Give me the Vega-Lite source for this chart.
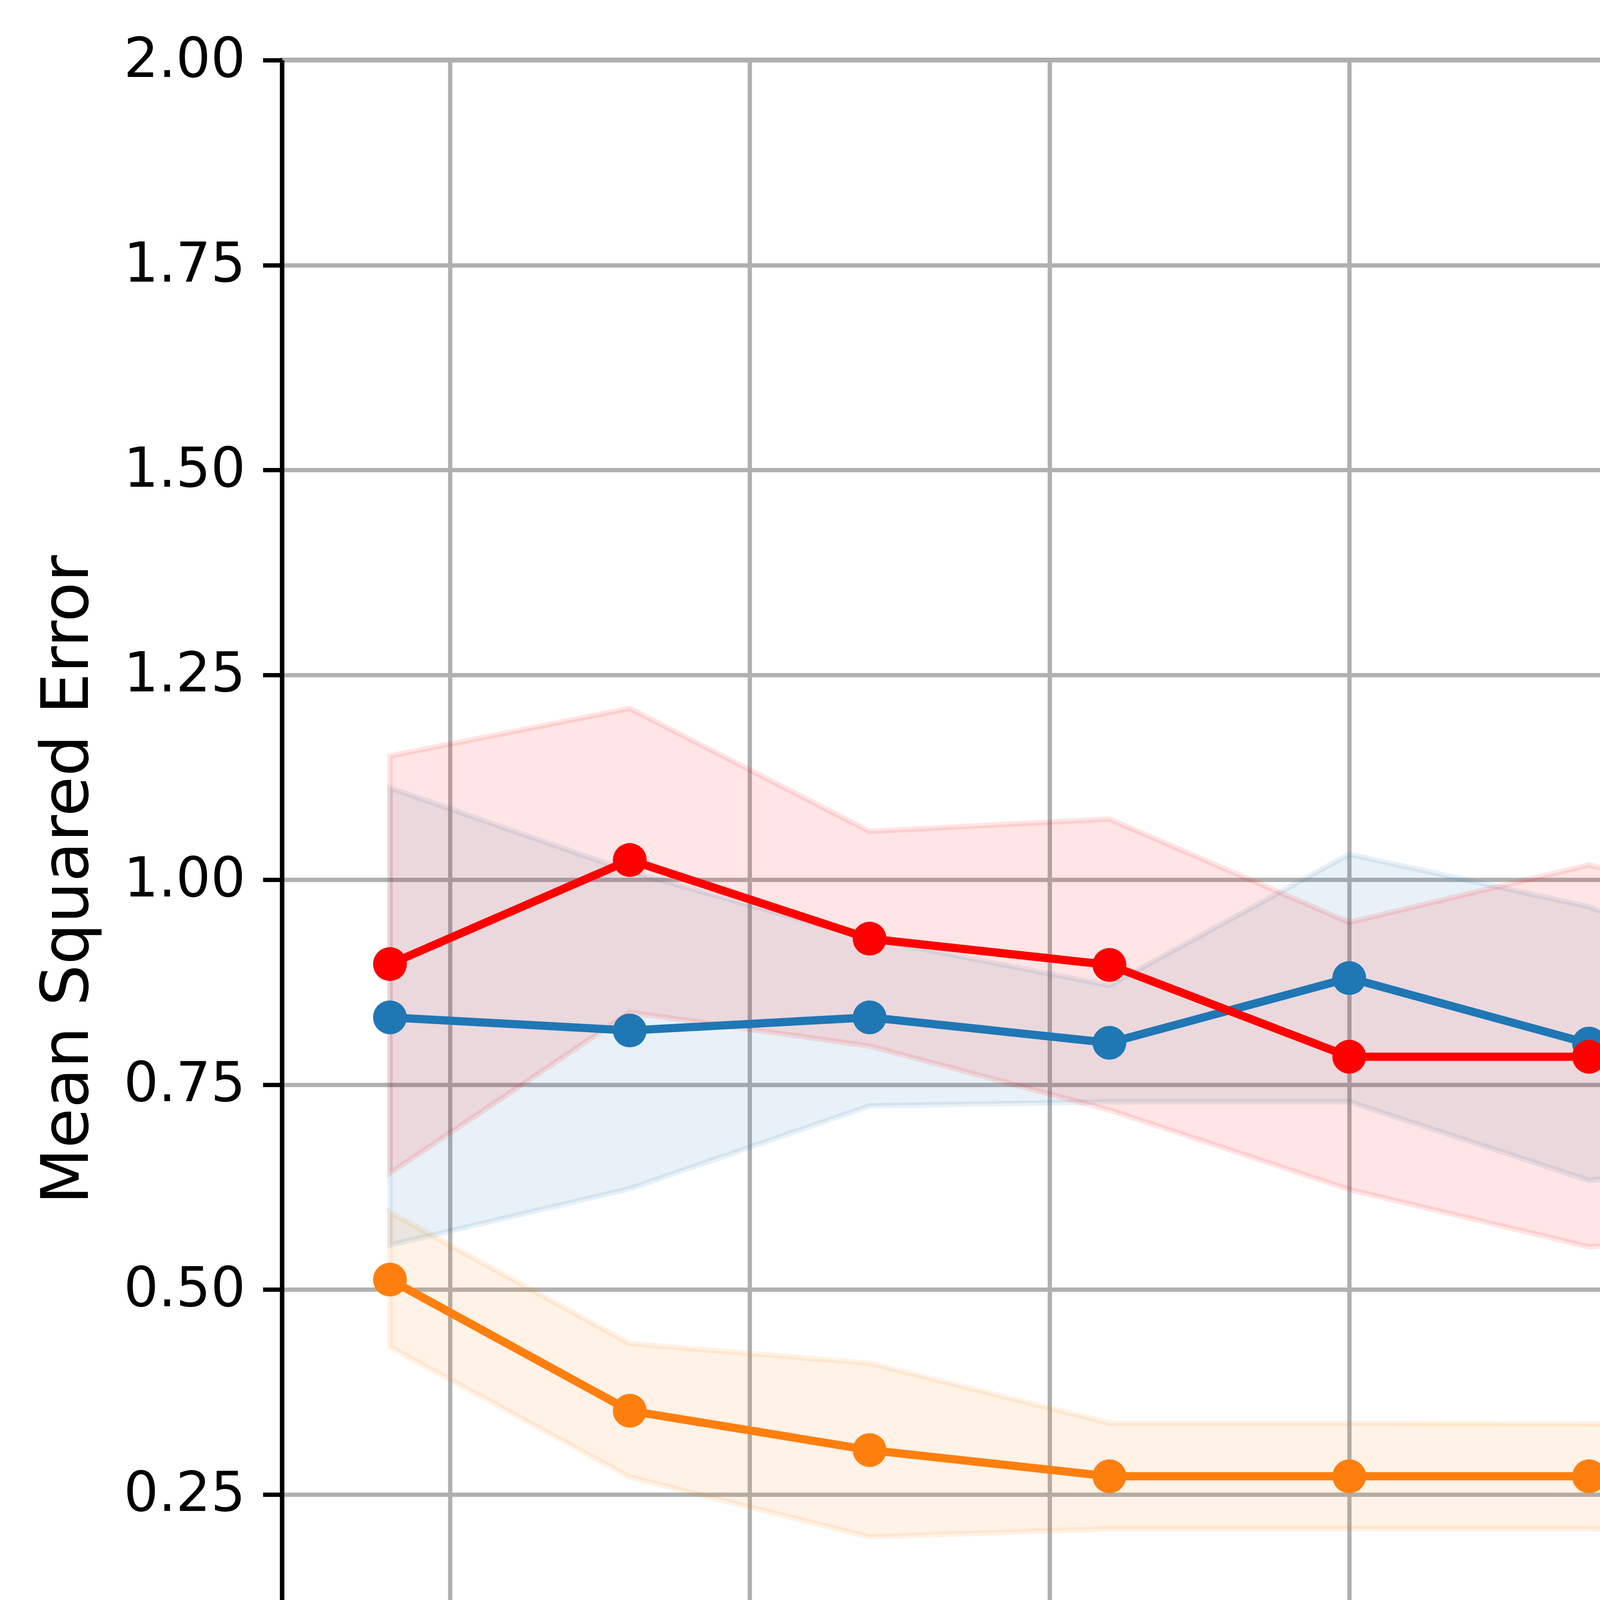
{
  "$schema": "https://vega.github.io/schema/vega-lite/v6.json",
  "width": 6078,
  "height": 4196,
  "autosize": {"type": "none"},
  "padding": {"left": 722, "top": 154, "right": 99, "bottom": 550},
  "background": "white",
  "data": {"values": [
    {"n": 400, "method": "π̂BC1", "mean": 0.832, "lo": 0.554, "hi": 1.112},
    {"n": 800, "method": "π̂BC1", "mean": 0.816, "lo": 0.623, "hi": 1.010},
    {"n": 1200, "method": "π̂BC1", "mean": 0.832, "lo": 0.724, "hi": 0.928},
    {"n": 1600, "method": "π̂BC1", "mean": 0.801, "lo": 0.729, "hi": 0.871},
    {"n": 2000, "method": "π̂BC1", "mean": 0.880, "lo": 0.729, "hi": 1.031},
    {"n": 2400, "method": "π̂BC1", "mean": 0.800, "lo": 0.633, "hi": 0.967},
    {"n": 2800, "method": "π̂BC1", "mean": 0.760, "lo": 0.671, "hi": 0.849},
    {"n": 3200, "method": "π̂BC1", "mean": 0.826, "lo": 0.728, "hi": 0.923},
    {"n": 3600, "method": "π̂BC1", "mean": 0.800, "lo": 0.800, "hi": 0.800},
    {"n": 4000, "method": "π̂BC1", "mean": 0.800, "lo": 0.800, "hi": 0.800},
    {"n": 400, "method": "π̂BC2", "mean": 0.512, "lo": 0.430, "hi": 0.594},
    {"n": 800, "method": "π̂BC2", "mean": 0.352, "lo": 0.271, "hi": 0.434},
    {"n": 1200, "method": "π̂BC2", "mean": 0.304, "lo": 0.198, "hi": 0.410},
    {"n": 1600, "method": "π̂BC2", "mean": 0.272, "lo": 0.208, "hi": 0.337},
    {"n": 2000, "method": "π̂BC2", "mean": 0.272, "lo": 0.208, "hi": 0.337},
    {"n": 2400, "method": "π̂BC2", "mean": 0.272, "lo": 0.208, "hi": 0.336},
    {"n": 2800, "method": "π̂BC2", "mean": 0.260, "lo": 0.194, "hi": 0.326},
    {"n": 3200, "method": "π̂BC2", "mean": 0.240, "lo": 0.175, "hi": 0.305},
    {"n": 3600, "method": "π̂BC2", "mean": 0.200, "lo": 0.161, "hi": 0.241},
    {"n": 4000, "method": "π̂BC2", "mean": 0.160, "lo": 0.160, "hi": 0.160},
    {"n": 400, "method": "π̂opt", "mean": 0.897, "lo": 0.642, "hi": 1.151},
    {"n": 800, "method": "π̂opt", "mean": 1.024, "lo": 0.838, "hi": 1.209},
    {"n": 1200, "method": "π̂opt", "mean": 0.928, "lo": 0.797, "hi": 1.059},
    {"n": 1600, "method": "π̂opt", "mean": 0.896, "lo": 0.719, "hi": 1.074},
    {"n": 2000, "method": "π̂opt", "mean": 0.784, "lo": 0.622, "hi": 0.948},
    {"n": 2400, "method": "π̂opt", "mean": 0.784, "lo": 0.552, "hi": 1.018},
    {"n": 2800, "method": "π̂opt", "mean": 0.760, "lo": 0.577, "hi": 0.943},
    {"n": 3200, "method": "π̂opt", "mean": 0.907, "lo": 0.677, "hi": 1.136},
    {"n": 3600, "method": "π̂opt", "mean": 0.880, "lo": 0.877, "hi": 0.883},
    {"n": 4000, "method": "π̂opt", "mean": 0.800, "lo": 0.800, "hi": 0.800}
  ]},
  "encoding": {
    "x": {
      "field": "n",
      "type": "quantitative",
      "scale": {"domain": [220, 4180], "nice": false, "zero": false},
      "axis": {"values": [500, 1000, 1500, 2000, 2500, 3000, 3500, 4000], "format": "d", "title": "Training Samples",
               "titleY": 415, "titleBaseline": "alphabetic"}
    }
  },
  "layer": [
    {
      "mark": {"type": "area", "fillOpacity": 0.1, "strokeOpacity": 0.1, "strokeWidth": 14},
      "encoding": {
        "y": {"field": "lo", "type": "quantitative", "scale": {"domain": [0, 2], "nice": false, "zero": false},
              "axis": {"values": [0, 0.25, 0.5, 0.75, 1, 1.25, 1.5, 1.75, 2], "format": ".2f", "title": "Mean Squared Error",
                       "titleX": -498, "titleBaseline": "alphabetic", "titleAngle": 270}},
        "y2": {"field": "hi"},
        "fill": {"field": "method", "type": "nominal", "legend": null,
                  "scale": {"range": ["#1f77b4", "#ff7f0e", "#ff0000"]}},
        "stroke": {"field": "method", "type": "nominal", "legend": null,
                  "scale": {"range": ["#1f77b4", "#ff7f0e", "#ff0000"]}}
      }
    },
    {
      "mark": {"type": "line", "strokeWidth": 21, "strokeJoin": "round"},
      "encoding": {
        "y": {"field": "mean", "type": "quantitative", "title": "Mean Squared Error"},
        "stroke": {"field": "method", "type": "nominal", "legend": null}
      }
    },
    {
      "mark": {"type": "point", "filled": true, "shape": "circle", "size": 7500, "opacity": 1},
      "encoding": {
        "y": {"field": "mean", "type": "quantitative", "title": "Mean Squared Error"},
        "color": {"field": "method", "type": "nominal",
                  "scale": {"domain": ["π̂BC1", "π̂BC2", "π̂opt"], "range": ["#1f77b4", "#ff7f0e", "#ff0000"]},
                  "legend": {
                    "title": null,
                    "orient": "top-right",
                    "offset": 68,
                    "symbolType": "M0,-1.085 M0,1.085 M-1.693,-0.119 L-0.51,-0.119 L-0.51,0.119 L-1.693,0.119 Z M0.51,-0.119 L1.693,-0.119 L1.693,0.119 L0.51,0.119 Z M-0.545,0 A0.545,0.545 0 1,1 0.545,0 A0.545,0.545 0 1,1 -0.545,0 Z",
                    "symbolSize": 30976,
                    "symbolStrokeWidth": 0,
                    "symbolOpacity": 1,
                    "symbolOffset": 61,
                    "labelOffset": 231,
                    "labelFont": "DejaVu Sans",
                    "labelFontSize": 106,
                    "labelColor": "#000",
                    "labelLimit": 2000,
                    "padding": 45,
                    "rowPadding": 35,
                    "strokeColor": "#d0d0d0",
                    "cornerRadius": 35,
                    "fillColor": "rgba(255,255,255,0.8)"
                  }}
      }
    }
  ],
  "config": {
    "view": {"stroke": "#000", "strokeWidth": 11},
    "axis": {
      "domainColor": "#000", "domainWidth": 11,
      "tickColor": "#000", "tickWidth": 11, "tickSize": 49,
      "labelPadding": 45, "labelFont": "DejaVu Sans", "labelFontSize": 140, "labelColor": "#000",
      "labelFlush": false, "labelOverlap": false, "labelLimit": 2000,
      "titleFont": "DejaVu Sans", "titleFontSize": 167, "titleFontWeight": "normal", "titleColor": "#000",
      "gridColor": "#b0b0b0", "gridWidth": 11, "gridOpacity": 1
    }
  }
}
